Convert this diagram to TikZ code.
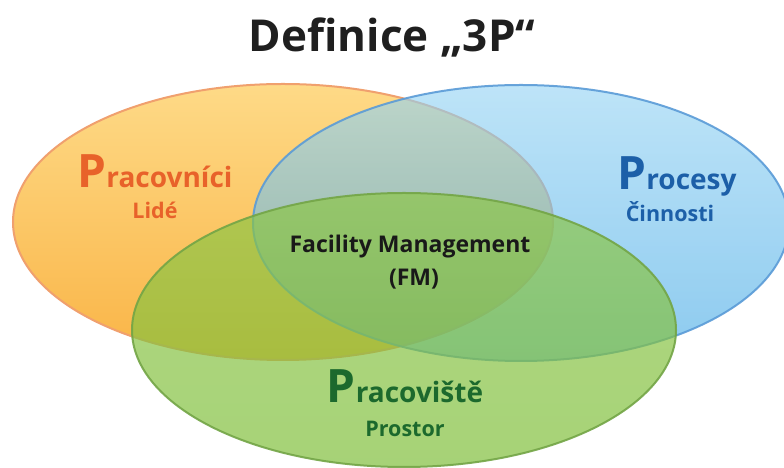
\documentclass[tikz,border=0pt]{standalone}
\usepackage{fontspec}
\setmainfont{Open Sans}
\usepackage{xcolor}
\usetikzlibrary{positioning}

\definecolor{orangeTop}{RGB}{254,218,135}
\definecolor{orangeBot}{RGB}{249,180,70}
\definecolor{orangeLine}{RGB}{240,160,110}
\definecolor{orangeText}{RGB}{232,98,42}
\definecolor{blueTop}{RGB}{150,212,244}
\definecolor{blueBot}{RGB}{70,170,230}
\definecolor{blueLine}{RGB}{90,155,215}
\definecolor{blueText}{RGB}{28,95,168}
\definecolor{greenTop}{RGB}{140,198,70}
\definecolor{greenBot}{RGB}{125,190,55}
\definecolor{greenLine}{RGB}{115,165,70}
\definecolor{greenText}{RGB}{28,105,45}

\newcommand\bigP[1]{{\fontsize{46}{46}\selectfont #1}}

\begin{document}
\begin{tikzpicture}[
  x=1pt, y=1pt,
  set/.style     = {line width=2pt},
  pracset/.style = {set, draw=orangeLine, top color=orangeTop, bottom color=orangeBot},
  procset/.style = {set, draw=blueLine, top color=blueTop, bottom color=blueBot, fill opacity=0.62, draw opacity=0.9},
  mistset/.style = {set, draw=greenLine, top color=greenTop, bottom color=greenBot, fill opacity=0.68, draw opacity=0.9},
  heading/.style = {anchor=base, font=\bfseries\fontsize{44}{44}\selectfont, text=black!88},
  setname/.style = {anchor=base, font=\bfseries\fontsize{28}{28}\selectfont, inner sep=0pt},
  subname/.style = {anchor=base, font=\bfseries\fontsize{21.5}{21.5}\selectfont, inner sep=0pt},
  fmtext/.style  = {anchor=base, font=\bfseries\fontsize{23}{23}\selectfont, text=black!90, inner sep=0pt}
]
\useasboundingbox (0,0) rectangle (784,468);
\fill[white] (0,0) rectangle (784,468);

% sets
\draw[pracset] (283,246) ellipse [x radius=270, y radius=138];
\draw[procset] (521,245) ellipse [x radius=268, y radius=138];
\draw[mistset] (404,138) ellipse [x radius=272, y radius=137];

% title
\node[heading] (head) at (392,416) {Definice „3P“};

% labels
\node[setname, text=orangeText] (pracovnici) at (155,280) {\bigP{P}racovníci};
\node[subname, text=orangeText] (lide)       at (155,249) {Lidé};
\node[setname, text=blueText]   (procesy)    at (677,278) {\bigP{P}rocesy};
\node[subname, text=blueText]   (cinnosti)   at (670,246) {Činnosti};
\node[setname, text=greenText]  (pracoviste) at (405,65)  {\bigP{P}racoviště};
\node[subname, text=greenText]  (prostor)    at (405,31)  {Prostor};

% centre
\node[fmtext] (fm)   at (410,215) {Facility Management};
\node[fmtext] (fmab) at (414,182) {(FM)};
\end{tikzpicture}
\end{document}
